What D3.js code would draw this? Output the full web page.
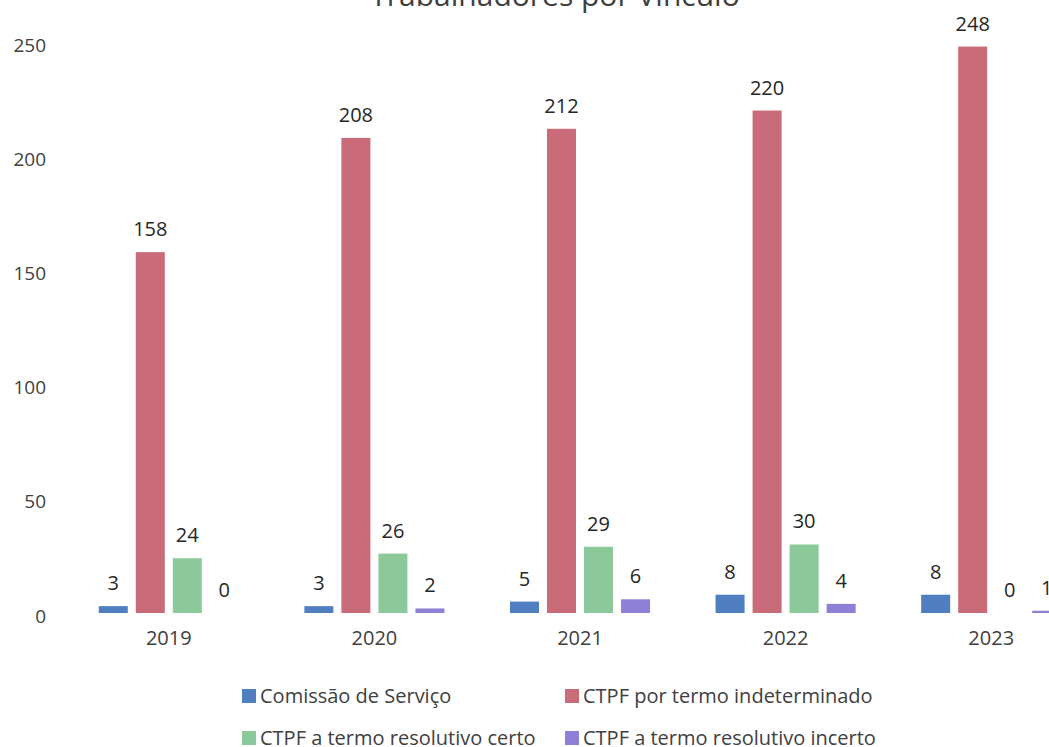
<!DOCTYPE html>
<html>
<head>
<meta charset="utf-8">
<script src="https://cdn.jsdelivr.net/npm/d3@7"></script>
<style>
  body { margin: 0; background: #fff; }
  svg { display: block; font-family: "Open Sans", "Noto Sans", sans-serif; }
</style>
</head>
<body>
<div id="chart"></div>
<script>
// chart data
const years = ['2019', '2020', '2021', '2022', '2023'];
const series = ['Comissão de Serviço', 'CTPF por termo indeterminado', 'CTPF a termo resolutivo certo', 'CTPF a termo resolutivo incerto'];
const comissao = [3, 3, 5, 8, 8];
const indeterminado = [158, 208, 212, 220, 248];
const certo = [24, 26, 29, 30, 0];
const incerto = [0, 2, 6, 4, 1];
const yTicks = [0, 50, 100, 150, 200, 250];
const colors = ['#4f7fc0', '#c96b78', '#8cc99a', '#8d80d6'];

const width = 1049, height = 747;
const values = [comissao, indeterminado, certo, incerto];

const svg = d3.select('#chart').append('svg')
    .attr('width', width)
    .attr('height', height);

// scales
const x0 = d3.scaleBand().domain(years).range([66, 1094]);
const x1 = d3.scaleBand().domain(series)
    .range([0, x0.bandwidth()])
    .paddingInner(0.216)
    .paddingOuter(0.885);
const y = d3.scaleLinear().domain([0, 250]).range([613, 42]);

// title (mostly cut off at the top of the picture)
svg.append('text')
    .attr('x', 555)
    .attr('y', 6)
    .attr('text-anchor', 'middle')
    .attr('font-size', 30)
    .attr('fill', '#404040')
    .text('Trabalhadores por Vínculo');

// y axis: labels only
const yAxis = d3.axisLeft(y).tickValues(yTicks).tickSize(0).tickPadding(0);
const gy = svg.append('g').attr('transform', 'translate(46,3)').call(yAxis);
gy.select('.domain').remove();
gy.selectAll('text')
    .attr('font-size', 19)
    .attr('fill', '#404040')
    .attr('font-family', '"Open Sans", sans-serif');

// x axis: labels only
const xAxis = d3.axisBottom(x0).tickSize(0).tickPadding(0);
const gx = svg.append('g').attr('transform', 'translate(0,631)').call(xAxis);
gx.select('.domain').remove();
gx.selectAll('text')
    .attr('font-size', 20)
    .attr('fill', '#404040')
    .attr('font-family', '"Open Sans", sans-serif');

// bars
const rows = [];
years.forEach((yr, i) => {
    series.forEach((s, j) => {
        rows.push({ year: yr, series: s, idx: j, value: values[j][i] });
    });
});

const groups = svg.append('g');
groups.selectAll('rect')
    .data(rows)
    .enter()
    .append('rect')
    .attr('x', d => x0(d.year) + x1(d.series))
    .attr('y', d => y(d.value))
    .attr('width', x1.bandwidth())
    .attr('height', d => y(0) - y(d.value))
    .attr('fill', d => colors[d.idx]);

// data labels
groups.selectAll('text.lbl')
    .data(rows)
    .enter()
    .append('text')
    .attr('class', 'lbl')
    .attr('x', d => x0(d.year) + x1(d.series) + x1.bandwidth() / 2)
    .attr('y', d => y(d.value) - 16)
    .attr('text-anchor', 'middle')
    .attr('font-size', 20)
    .attr('fill', '#262626')
    .text(d => d.value);

// legend
const legendPos = [
    { x: 242, y: 696 },
    { x: 565, y: 696 },
    { x: 242, y: 738 },
    { x: 565, y: 738 }
];
const legend = svg.append('g');
series.forEach((s, j) => {
    const g = legend.append('g')
        .attr('transform', `translate(${legendPos[j].x},${legendPos[j].y})`);
    g.append('rect')
        .attr('x', 0)
        .attr('y', -7)
        .attr('width', 14)
        .attr('height', 14)
        .attr('fill', colors[j]);
    g.append('text')
        .attr('x', 18)
        .attr('y', 7)
        .attr('font-size', 20)
        .attr('fill', '#404040')
        .text(s);
});
</script>
</body>
</html>
